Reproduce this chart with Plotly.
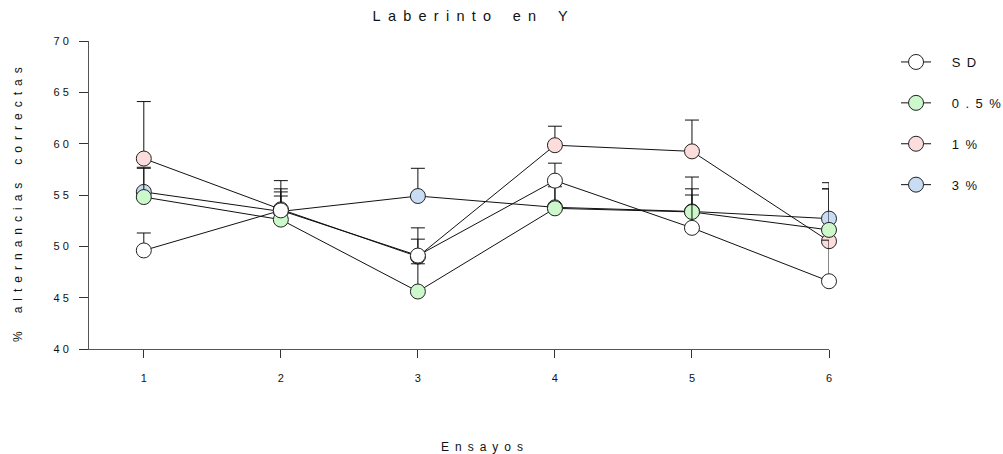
import plotly.graph_objects as go

# Trials (x axis)
ensayos = [1, 2, 3, 4, 5, 6]

# Mean % correct alternations per group
sd_mean = [49.6, 53.5, 49.1, 56.4, 51.8, 46.6]
p05_mean = [54.8, 52.6, 45.6, 53.7, 53.35, 51.6]
p1_mean = [58.55, 53.6, 49.0, 59.85, 59.25, 50.5]
p3_mean = [55.3, 53.4, 54.9, 53.8, 53.4, 52.7]

# Standard error (upper bar only)
sd_err = [1.7, 1.8, 1.6, 1.7, 3.2, 4.0]
p05_err = [2.8, 2.3, 2.7, 2.3, 3.4, 4.0]
p1_err = [5.55, 2.8, 2.8, 1.85, 3.05, 5.7]
p3_err = [2.4, 2.2, 2.7, 2.0, 2.2, 2.9]

# Axis tick labels
y_ticks = [40, 45, 50, 55, 60, 65, 70]
y_ticktext = ["4 0", "4 5", "5 0", "5 5", "6 0", "6 5", "7 0"]

group_names = ["SD", "0.5%", "1%", "3%"]
group_colors = ["#ffffff", "#ccf8cc", "#fddcdc", "#c8dcf4"]

LETTER_GAP = "\u2002"            # en space between letters
WORD_GAP = "\u2002\u2002\u2002"  # wider gap between words
LEGEND_PAD = "\u2002\u2002\u2009"  # gap between legend symbol and label


def spaced(text):
    """Letter-spaced label, the way the axis labels are typeset."""
    return WORD_GAP.join(LETTER_GAP.join(word) for word in text.split(" "))


series = list(zip(group_names, [sd_mean, p05_mean, p1_mean, p3_mean],
                  [sd_err, p05_err, p1_err, p3_err], group_colors))
draw_order = ["1%", "3%", "0.5%", "SD"]  # bottom to top
lookup = {s[0]: s for s in series}

FONT = "Liberation Sans, Arial, sans-serif"

fig = go.Figure()
for name in draw_order:
    _, mean, err, color = lookup[name]
    fig.add_trace(go.Scatter(
        x=ensayos, y=mean, name=LEGEND_PAD + spaced(name),
        mode="lines+markers",
        line=dict(color="#111111", width=1),
        marker=dict(size=15, color=color, line=dict(color="#222222", width=1)),
        error_y=dict(type="data", symmetric=False, array=err,
                     arrayminus=[0] * len(err), color="#111111",
                     thickness=1, width=7),
        legendgroup=name, legendrank=group_names.index(name) + 1,
        cliponaxis=False,
    ))

fig.update_layout(
    width=1003, height=454,
    margin=dict(l=89, r=174, t=41, b=105, autoexpand=False),
    paper_bgcolor="white", plot_bgcolor="white",
    font=dict(family=FONT, size=12, color="#111111"),
    title=dict(text=spaced("Laberinto en Y"), x=0.515, xref="paper",
               xanchor="center", y=1 - 16 / 454, yref="container",
               yanchor="middle", font=dict(size=14.5, family=FONT)),
    showlegend=True,
    legend=dict(x=1.0906, xanchor="left", y=0.9805, yanchor="top",
                font=dict(size=13, family=FONT), tracegroupgap=21,
                bgcolor="rgba(0,0,0,0)"),
    xaxis=dict(range=[0.6, 6.0], tickvals=ensayos, ticks="outside",
               ticklen=8, tickcolor="#333333", showline=True,
               linecolor="#555555", linewidth=1, showgrid=False,
               zeroline=False, ticklabelstandoff=11,
               tickfont=dict(size=11, family=FONT)),
    yaxis=dict(range=[40, 70], tickvals=y_ticks, ticktext=y_ticktext,
               ticks="outside", ticklen=9, tickcolor="#333333",
               showline=True, linecolor="#555555", linewidth=1,
               showgrid=False, zeroline=False, ticklabelstandoff=8,
               tickfont=dict(size=11, family=FONT)),
    annotations=[
        dict(text=spaced("Ensayos"), xref="paper", yref="paper",
             x=(482 - 89) / 740, y=(349 - 447) / 308, xanchor="center",
             yanchor="middle", showarrow=False,
             font=dict(size=12, family=FONT)),
        dict(text=spaced("% alternancias correctas"), xref="paper",
             yref="paper", x=(18 - 89) / 740, y=(349 - 205) / 308,
             xanchor="center", yanchor="middle", textangle=-90,
             showarrow=False, font=dict(size=12, family=FONT)),
    ],
)

fig.write_html("out.html")
